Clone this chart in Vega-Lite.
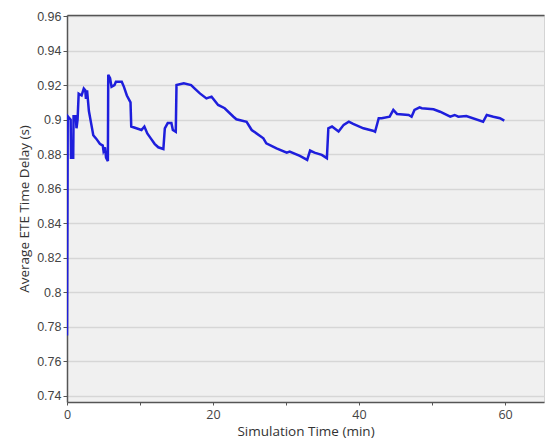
{
  "$schema": "https://vega.github.io/schema/vega-lite/v6.json",
  "autosize": "none",
  "padding": {"left": 67, "top": 15, "right": 3, "bottom": 42},
  "width": 477,
  "height": 387,
  "background": "white",
  "config": {
    "view": {"fill": "#f0f0f0", "stroke": "#d4d4d4", "strokeWidth": 1},
    "axis": {"labelFont": "Liberation Sans", "titleFont": "Open Sans", "labelColor": "#444", "titleColor": "#333", "titleFontWeight": "normal", "labelFontSize": 12.5, "titleFontSize": 13.5, "labelOverlap": false}
  },
  "data": {"values": [
    {"t": 0.0, "v": 0.775}, {"t": 0.1, "v": 0.902}, {"t": 0.5, "v": 0.9}, {"t": 0.55, "v": 0.878},
    {"t": 0.85, "v": 0.878}, {"t": 0.9, "v": 0.902}, {"t": 1.2, "v": 0.902}, {"t": 1.3, "v": 0.895},
    {"t": 1.45, "v": 0.9}, {"t": 1.6, "v": 0.915}, {"t": 2.0, "v": 0.914}, {"t": 2.3, "v": 0.918},
    {"t": 2.5, "v": 0.917}, {"t": 2.6, "v": 0.912}, {"t": 2.75, "v": 0.917}, {"t": 3.0, "v": 0.905},
    {"t": 3.3, "v": 0.898}, {"t": 3.6, "v": 0.891}, {"t": 4.0, "v": 0.889}, {"t": 4.5, "v": 0.886},
    {"t": 4.9, "v": 0.885}, {"t": 5.0, "v": 0.882}, {"t": 5.2, "v": 0.884}, {"t": 5.35, "v": 0.878},
    {"t": 5.6, "v": 0.876}, {"t": 5.65, "v": 0.926}, {"t": 5.9, "v": 0.924}, {"t": 6.1, "v": 0.919},
    {"t": 6.5, "v": 0.92}, {"t": 6.7, "v": 0.922}, {"t": 7.5, "v": 0.922}, {"t": 7.8, "v": 0.919},
    {"t": 8.2, "v": 0.914}, {"t": 8.7, "v": 0.91}, {"t": 8.8, "v": 0.896}, {"t": 9.5, "v": 0.895},
    {"t": 10.2, "v": 0.894}, {"t": 10.6, "v": 0.896}, {"t": 11.0, "v": 0.892}, {"t": 11.5, "v": 0.889},
    {"t": 12.0, "v": 0.886}, {"t": 12.5, "v": 0.884}, {"t": 13.2, "v": 0.883}, {"t": 13.4, "v": 0.895},
    {"t": 13.8, "v": 0.898}, {"t": 14.3, "v": 0.898}, {"t": 14.5, "v": 0.894}, {"t": 14.9, "v": 0.893},
    {"t": 15.0, "v": 0.92}, {"t": 16.0, "v": 0.921}, {"t": 17.0, "v": 0.92}, {"t": 17.5, "v": 0.918},
    {"t": 18.2, "v": 0.9152}, {"t": 19.1, "v": 0.9123}, {"t": 19.8, "v": 0.9133}, {"t": 20.7, "v": 0.9085},
    {"t": 21.6, "v": 0.9066}, {"t": 22.8, "v": 0.9017}, {"t": 23.2, "v": 0.9002}, {"t": 24.6, "v": 0.8988},
    {"t": 25.3, "v": 0.894}, {"t": 26.9, "v": 0.8892}, {"t": 27.3, "v": 0.8863}, {"t": 28.7, "v": 0.8834},
    {"t": 30.1, "v": 0.8809}, {"t": 30.5, "v": 0.8815}, {"t": 31.9, "v": 0.879}, {"t": 32.9, "v": 0.8767},
    {"t": 33.3, "v": 0.8821}, {"t": 33.9, "v": 0.8809}, {"t": 34.9, "v": 0.8796}, {"t": 35.6, "v": 0.8777},
    {"t": 35.8, "v": 0.895}, {"t": 36.3, "v": 0.896}, {"t": 37.2, "v": 0.8931}, {"t": 37.9, "v": 0.897},
    {"t": 38.6, "v": 0.8988}, {"t": 39.2, "v": 0.8975}, {"t": 40.6, "v": 0.895}, {"t": 41.9, "v": 0.8936},
    {"t": 42.2, "v": 0.893}, {"t": 42.7, "v": 0.9008}, {"t": 43.1, "v": 0.9008}, {"t": 44.2, "v": 0.9017},
    {"t": 44.7, "v": 0.9056}, {"t": 45.2, "v": 0.9033}, {"t": 46.8, "v": 0.9027}, {"t": 47.2, "v": 0.9017},
    {"t": 47.6, "v": 0.9056}, {"t": 48.3, "v": 0.9071}, {"t": 48.6, "v": 0.9066}, {"t": 50.2, "v": 0.906},
    {"t": 51.1, "v": 0.9046}, {"t": 52.5, "v": 0.9017}, {"t": 53.1, "v": 0.9027}, {"t": 53.6, "v": 0.9017},
    {"t": 54.7, "v": 0.9021}, {"t": 57.0, "v": 0.8988}, {"t": 57.5, "v": 0.9027}, {"t": 58.4, "v": 0.9017},
    {"t": 59.3, "v": 0.9008}, {"t": 59.9, "v": 0.8994}
  ]},
  "layer": [
    {
      "mark": {"type": "line", "color": "#1e1edc", "strokeWidth": 2.5, "clip": true},
      "encoding": {
        "x": {"field": "t", "type": "quantitative",
              "scale": {"domain": [0, 65.34], "nice": false, "zero": false},
              "axis": {"title": "Simulation Time (min)", "values": [0, 10, 20, 30, 40, 50, 60],
                       "labelExpr": "datum.value % 20 == 0 ? datum.label : ''",
                       "labelFont": "Open Sans", "labelFontSize": 12.5,
                       "grid": false, "domainColor": "#555", "domainWidth": 1.5, "tickColor": "#555", "tickSize": 3,
                       "labelPadding": 3, "titlePadding": 4, "labelFlush": false}},
        "y": {"field": "v", "type": "quantitative",
              "scale": {"domain": [0.7365, 0.9606], "nice": false, "zero": false},
              "axis": {"title": "Average ETE Time Delay (s)", "values": [0.74, 0.76, 0.78, 0.8, 0.82, 0.84, 0.86, 0.88, 0.9, 0.92, 0.94, 0.96],
                       "format": ".2~f", "grid": true, "gridColor": "#d6d6d6", "gridWidth": 1.5,
                       "domainColor": "#555", "domainWidth": 1.5, "tickColor": "#555", "tickSize": 4,
                       "labelPadding": 2, "titlePadding": 5, "labelFlush": false, "labelBound": false}}
      }
    },
    {
      "mark": {"type": "line", "opacity": 0},
      "encoding": {
        "x": {"field": "t", "type": "quantitative",
              "scale": {"domain": [0, 65.34], "nice": false, "zero": false},
              "axis": {"orient": "top", "title": null, "labels": false, "ticks": false, "grid": false,
                       "domainColor": "#555", "domainWidth": 1.5}},
        "y": {"field": "v", "type": "quantitative",
              "scale": {"domain": [0.7365, 0.9606], "nice": false, "zero": false},
              "axis": {"title": "Average ETE Time Delay (s)", "values": [0.74, 0.76, 0.78, 0.8, 0.82, 0.84, 0.86, 0.88, 0.9, 0.92, 0.94, 0.96],
                       "format": ".2~f", "grid": true, "gridColor": "#d6d6d6", "gridWidth": 1.5,
                       "domainColor": "#555", "domainWidth": 1.5, "tickColor": "#555", "tickSize": 4,
                       "labelPadding": 2, "titlePadding": 5, "labelFlush": false, "labelBound": false}}
      }
    }
  ],
  "resolve": {"axis": {"x": "independent"}}
}
